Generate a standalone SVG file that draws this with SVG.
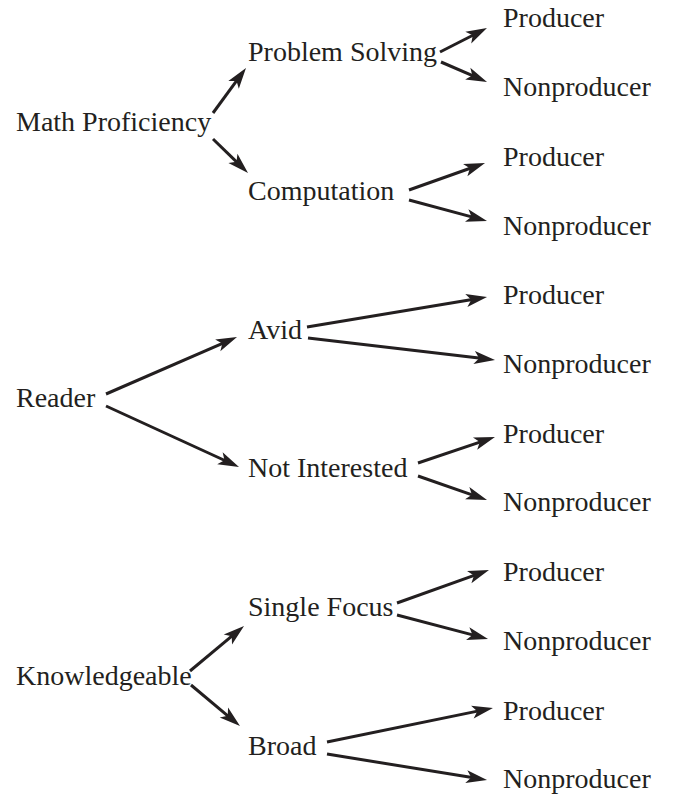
<svg xmlns="http://www.w3.org/2000/svg" width="673" height="796" viewBox="0 0 673 796">
<style>
  text { font-family: "Liberation Serif", "Times New Roman", serif; font-size: 28px; fill: #231f20; }
  .c line { stroke: #231f20; stroke-width: 3; fill: none; marker-end: url(#ah); }
</style>
<defs>
  <marker id="ah" markerUnits="userSpaceOnUse" viewBox="-10 -8 24 16" refX="0" refY="0" markerWidth="24" markerHeight="16" orient="auto" overflow="visible">
    <path d="M12,0 L-9,-6.5 L-4,0 L-9,6.5 Z" fill="#231f20"/>
  </marker>
</defs>
<rect width="673" height="796" fill="#ffffff"/>
<g class="c" id="connectors">
  <line x1="213" y1="113" x2="238.9" y2="77.7"/>
  <line x1="213" y1="139" x2="239.4" y2="164.6"/>
  <line x1="440" y1="52" x2="476.3" y2="33.5"/>
  <line x1="441" y1="62" x2="476.0" y2="77.2"/>
  <line x1="409" y1="190" x2="473.7" y2="167.0"/>
  <line x1="409" y1="200" x2="475.4" y2="217.9"/>
  <line x1="106" y1="394" x2="226.0" y2="341.8"/>
  <line x1="106" y1="406" x2="228.1" y2="462.0"/>
  <line x1="307" y1="327" x2="475.2" y2="299.0"/>
  <line x1="308" y1="338" x2="483.1" y2="358.6"/>
  <line x1="418" y1="463" x2="483.6" y2="440.8"/>
  <line x1="418" y1="476" x2="475.7" y2="496.1"/>
  <line x1="190" y1="671" x2="234.8" y2="633.7"/>
  <line x1="191" y1="685" x2="230.8" y2="718.3"/>
  <line x1="397" y1="603" x2="477.7" y2="574.1"/>
  <line x1="397" y1="615" x2="476.4" y2="635.9"/>
  <line x1="327" y1="742" x2="481.2" y2="710.4"/>
  <line x1="327" y1="754" x2="475.2" y2="778.1"/>
</g>
<g id="math"><text x="16" y="131">Math Proficiency</text></g>
<g id="problem"><text x="248" y="61">Problem Solving</text></g>
<g id="computation"><text x="248" y="200">Computation</text></g>
<g id="p1"><text x="503" y="27">Producer</text></g>
<g id="n1"><text x="503" y="96">Nonproducer</text></g>
<g id="p2"><text x="503" y="165.5">Producer</text></g>
<g id="n2"><text x="503" y="235">Nonproducer</text></g>
<g id="reader"><text x="16" y="407">Reader</text></g>
<g id="avid"><text x="248" y="339">Avid</text></g>
<g id="notint"><text x="248" y="477">Not Interested</text></g>
<g id="p3"><text x="503" y="304">Producer</text></g>
<g id="n3"><text x="503" y="373">Nonproducer</text></g>
<g id="p4"><text x="503" y="442.5">Producer</text></g>
<g id="n4"><text x="503" y="511">Nonproducer</text></g>
<g id="know"><text x="16" y="685">Knowledgeable</text></g>
<g id="single"><text x="248" y="616">Single Focus</text></g>
<g id="broad"><text x="248" y="755">Broad</text></g>
<g id="p5"><text x="503" y="581">Producer</text></g>
<g id="n5"><text x="503" y="650">Nonproducer</text></g>
<g id="p6"><text x="503" y="720">Producer</text></g>
<g id="n6"><text x="503" y="788">Nonproducer</text></g>
</svg>
